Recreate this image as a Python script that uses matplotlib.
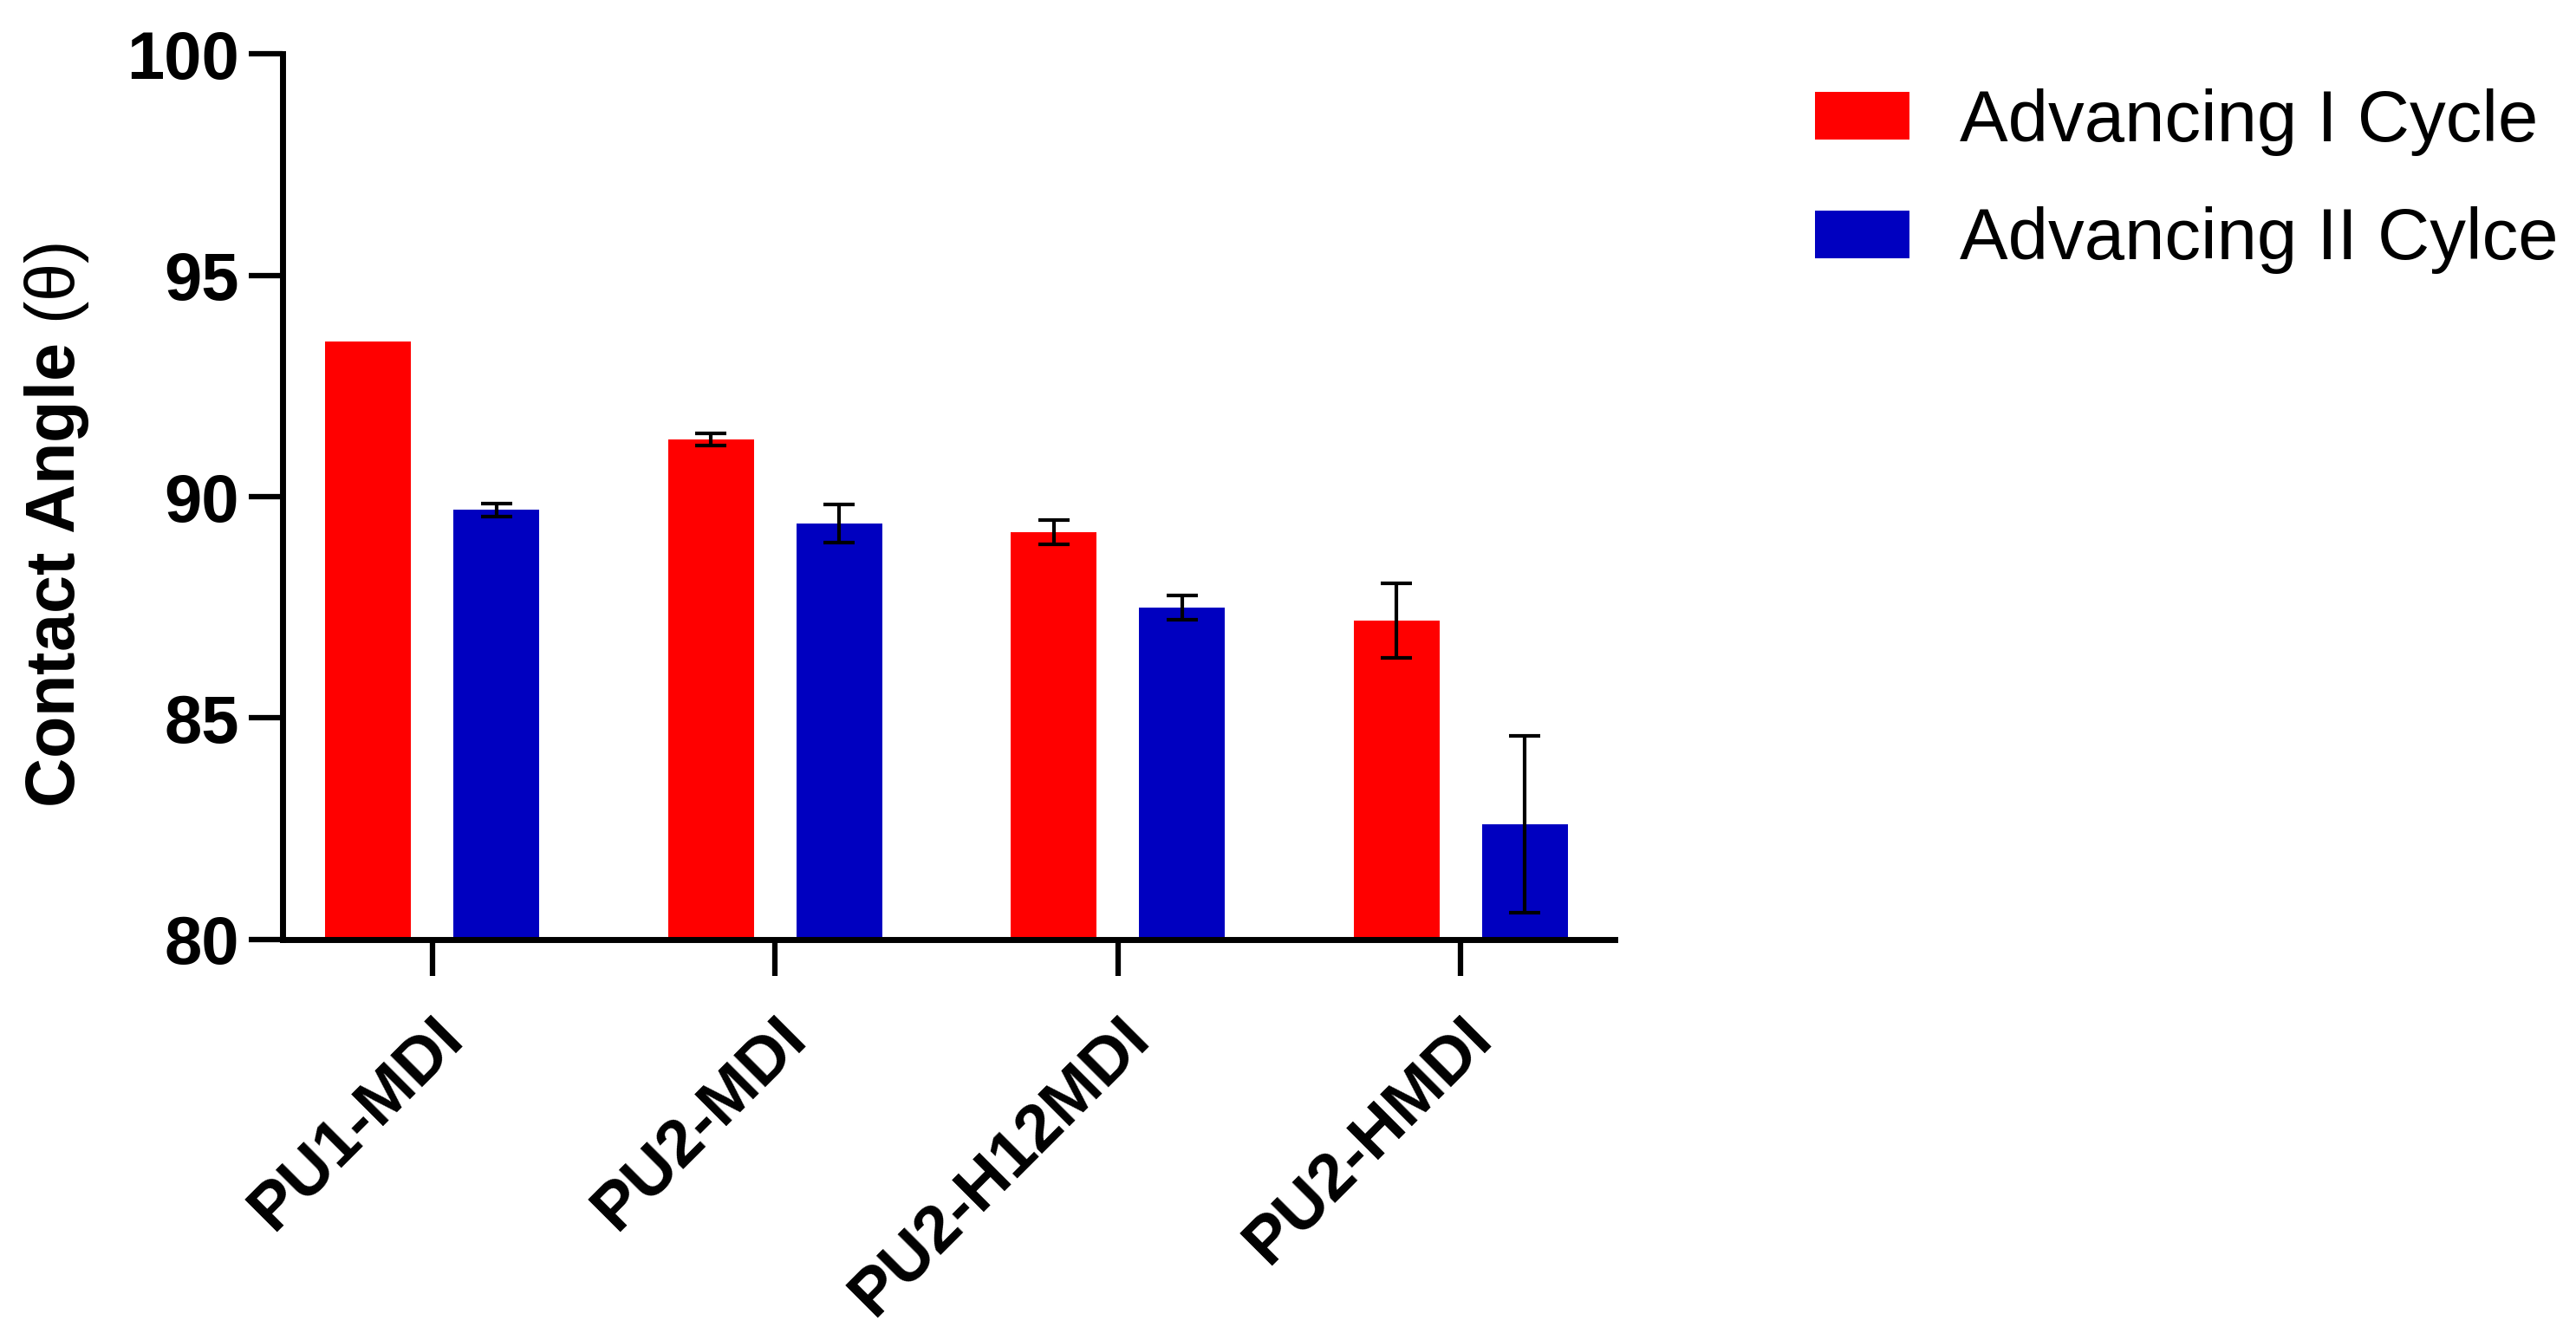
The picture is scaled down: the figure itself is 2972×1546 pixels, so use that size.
import matplotlib
matplotlib.use("Agg")
import matplotlib.pyplot as plt
import matplotlib.transforms as mtransforms
import numpy as np
from matplotlib.patches import Patch

plt.rcParams['font.family'] = ['Liberation Sans', 'DejaVu Sans']
plt.rcParams['mathtext.fontset'] = 'custom'
plt.rcParams['mathtext.rm'] = 'Liberation Sans'

categories = ["PU1-MDI", "PU2-MDI", "PU2-H12MDI", "PU2-HMDI"]
series_names = ["Advancing I Cycle", "Advancing II Cylce"]
adv1 = [93.5, 91.3, 89.2, 87.2]
adv1_err = [0.0, 0.14, 0.28, 0.84]
adv2 = [89.7, 89.4, 87.5, 82.6]
adv2_err = [0.14, 0.43, 0.27, 2.0]
yticks = [80, 85, 90, 95, 100]

RED = "#FF0000"
BLUE = "#0000C0"

fig = plt.figure(figsize=(29.72, 15.46), dpi=100)
ax = fig.add_axes([0.1097, 0.299, 0.627 - 0.1097, 0.9596 - 0.299])

x = np.arange(len(categories))
w = 0.25
off = 0.187

for vals, errs, color, sign in [(adv1, adv1_err, RED, -1), (adv2, adv2_err, BLUE, 1)]:
    xs = x + sign * off
    ax.bar(xs, np.array(vals) - 80, width=w, bottom=80, color=color, edgecolor='none', zorder=2)
    vals = np.array(vals); errs = np.array(errs)
    m = errs > 0
    ax.errorbar(xs[m], vals[m], yerr=errs[m], fmt='none', ecolor='black',
                elinewidth=3, capsize=13, capthick=3, zorder=3)

ax.set_ylim(80, 100)
ax.set_xlim(-0.436, 3.45)
ax.set_yticks(yticks)
ax.set_yticklabels([str(t) for t in yticks], fontsize=56, fontweight='bold')
ax.set_xticks(x)
ax.set_xticklabels(categories, fontsize=55, fontweight='bold', rotation=45,
                   ha='right', rotation_mode='anchor')
offset = mtransforms.ScaledTranslation(-25 / 100, 0, fig.dpi_scale_trans)
for lbl in ax.get_xticklabels():
    lbl.set_transform(lbl.get_transform() + offset)

ax.set_ylabel(r"Contact Angle $\mathrm{(θ)}$", fontsize=57, fontweight='bold')
ax.yaxis.set_label_coords(-0.144, 0.4675)

for s in ['top', 'right']:
    ax.spines[s].set_visible(False)
for s in ['left', 'bottom']:
    ax.spines[s].set_linewidth(5)
ax.tick_params(axis='y', length=28, width=4.5, pad=8)
ax.tick_params(axis='x', length=30, width=4.5, pad=25)

handles = [Patch(facecolor=RED, edgecolor='none'), Patch(facecolor=BLUE, edgecolor='none')]
fig.legend(handles, series_names, loc='upper left', bbox_to_anchor=(0.7047, 0.934),
           frameon=False, fontsize=60, handlelength=1.3, handleheight=0.64,
           handletextpad=0.7, labelspacing=0.7, borderpad=0, borderaxespad=0)

fig.savefig("out.png", dpi=100)
